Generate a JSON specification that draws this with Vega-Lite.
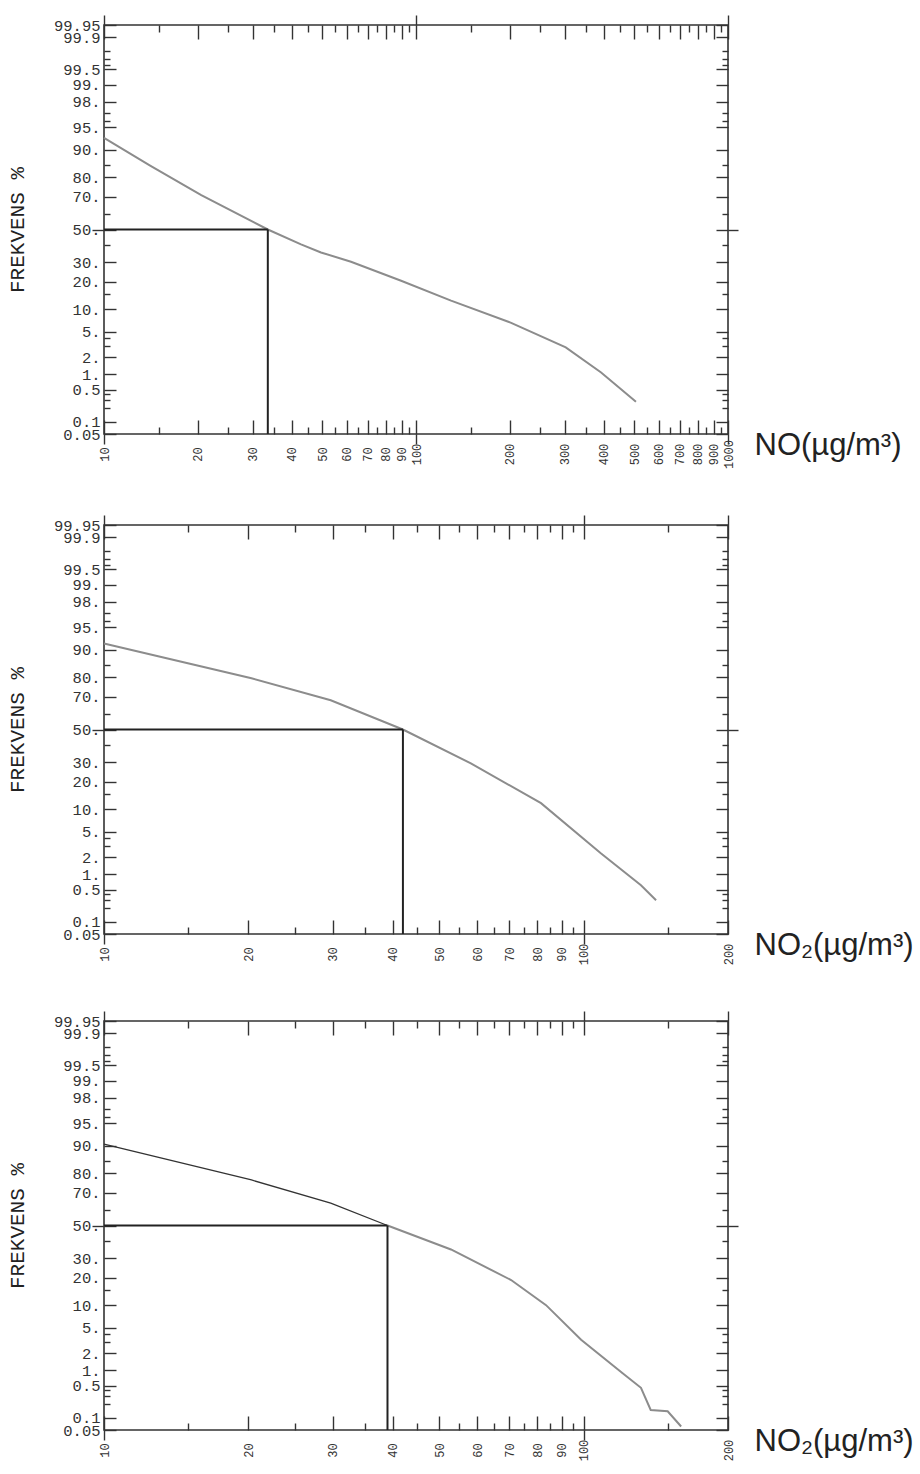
{
  "$schema": "https://vega.github.io/schema/vega-lite/v6.json",
  "background": "white",
  "padding": {"left": 5, "top": 13, "right": 5, "bottom": 5},
  "spacing": 43,
  "config": {
    "view": {"stroke": "#333", "strokeWidth": 1.6},
    "axis": {"domain": false, "grid": false, "tickColor": "#333", "tickWidth": 1.4, "labelColor": "#333", "titleColor": "#222", "labelOverlap": false, "labelFlush": false, "labelBound": false}
  },
  "datasets": {
    "curves": [
      {"panel": "NO", "part": "upper", "c": 10, "p": 93.0},
      {"panel": "NO", "part": "upper", "c": 14.1, "p": 84.7},
      {"panel": "NO", "part": "upper", "c": 20.5, "p": 71.0},
      {"panel": "NO", "part": "upper", "c": 33.5, "p": 50},
      {"panel": "NO", "part": "lower", "c": 33.5, "p": 50},
      {"panel": "NO", "part": "lower", "c": 42.8, "p": 40.5},
      {"panel": "NO", "part": "lower", "c": 49.6, "p": 35.6},
      {"panel": "NO", "part": "lower", "c": 61.9, "p": 30.2},
      {"panel": "NO", "part": "lower", "c": 89.6, "p": 20.5},
      {"panel": "NO", "part": "lower", "c": 129.5, "p": 12.6},
      {"panel": "NO", "part": "lower", "c": 201, "p": 6.7},
      {"panel": "NO", "part": "lower", "c": 302, "p": 2.9},
      {"panel": "NO", "part": "lower", "c": 392, "p": 1.07},
      {"panel": "NO", "part": "lower", "c": 507, "p": 0.28},
      {"panel": "NO2a", "part": "upper", "c": 10, "p": 91.7},
      {"panel": "NO2a", "part": "upper", "c": 20.3, "p": 79.5},
      {"panel": "NO2a", "part": "upper", "c": 29.7, "p": 68.1},
      {"panel": "NO2a", "part": "upper", "c": 42, "p": 50},
      {"panel": "NO2a", "part": "lower", "c": 42, "p": 50},
      {"panel": "NO2a", "part": "lower", "c": 58.2, "p": 29.3},
      {"panel": "NO2a", "part": "lower", "c": 81.5, "p": 11.8},
      {"panel": "NO2a", "part": "lower", "c": 108.6, "p": 2.33},
      {"panel": "NO2a", "part": "lower", "c": 131.7, "p": 0.61},
      {"panel": "NO2a", "part": "lower", "c": 141.6, "p": 0.30},
      {"panel": "NO2b", "part": "upper", "c": 10, "p": 90.5},
      {"panel": "NO2b", "part": "upper", "c": 20.3, "p": 76.8},
      {"panel": "NO2b", "part": "upper", "c": 29.7, "p": 64.1},
      {"panel": "NO2b", "part": "upper", "c": 39, "p": 50},
      {"panel": "NO2b", "part": "lower", "c": 39, "p": 50},
      {"panel": "NO2b", "part": "lower", "c": 52.9, "p": 35},
      {"panel": "NO2b", "part": "lower", "c": 70.6, "p": 19},
      {"panel": "NO2b", "part": "lower", "c": 83.5, "p": 10},
      {"panel": "NO2b", "part": "lower", "c": 98.8, "p": 3.3},
      {"panel": "NO2b", "part": "lower", "c": 120.6, "p": 0.875},
      {"panel": "NO2b", "part": "lower", "c": 131.7, "p": 0.45},
      {"panel": "NO2b", "part": "lower", "c": 138, "p": 0.15},
      {"panel": "NO2b", "part": "lower", "c": 149.7, "p": 0.14},
      {"panel": "NO2b", "part": "lower", "c": 159.7, "p": 0.061}
    ],
    "medians": [
      {"panel": "NO", "m": 33.5, "p": 50, "lo": 10, "pl": 0.05},
      {"panel": "NO2a", "m": 42, "p": 50, "lo": 10, "pl": 0.05},
      {"panel": "NO2b", "m": 39, "p": 50, "lo": 10, "pl": 0.05}
    ]
  },
  "vconcat": [
    {
      "width": 624, "height": 409,
      "resolve": {"axis": {"x": "independent", "y": "independent"}},
      "layer": [
        {
          "data": {"name": "curves"},
          "transform": [{"filter": "datum.panel == 'NO' && datum.part == 'upper'"}, {"calculate": "quantileNormal(datum.p / 100)", "as": "z"}],
          "mark": {"type": "line", "color": "#8c8c8c", "strokeWidth": 2},
          "encoding": {
            "x": {"field": "c", "type": "quantitative", "scale": {"type": "log", "domain": [10, 1000], "nice": false},
              "axis": {"orient": "bottom", "values": [10,15,20,25,30,35,40,45,50,55,60,65,70,75,80,85,90,95,100,150,200,250,300,350,400,450,500,550,600,650,700,750,800,850,900,950,1000],
                "format": "d", "labelAngle": 270, "labelAlign": "center", "labelBaseline": "middle", "labelFont": "Liberation Mono", "labelFontSize": 12, "labelPadding": 34,
                "labelExpr": "indexof([15,25,35,45,55,65,75,85,95,150,250,350,450,550,650,750,850,950], datum.value) >= 0 ? '' : datum.label",
                "tickSize": {"condition": {"test": "indexof([15,25,35,45,55,65,75,85,95,150,250,350,450,550,650,750,850,950], datum.value) >= 0", "value": -7}, "value": -14},
                "title": "NO(µg/m³)", "titleFont": "Liberation Sans", "titleFontSize": 31, "titleFontWeight": "normal", "titleX": 650, "titleY": 20, "titleAlign": "left", "titleBaseline": "alphabetic", "titleAngle": 0}},
            "y": {"field": "z", "type": "quantitative", "scale": {"domain": [-3.290527, 3.290527], "nice": false, "zero": false},
              "axis": {"orient": "left", "values": [-3.290527,-3.090232,-2.878162,-2.747781,-2.65207,-2.575829,-2.326348,-2.053749,-1.880794,-1.750686,-1.644854,-1.281552,-1.036433,-0.841621,-0.524401,-0.253347,0,0.253347,0.524401,0.841621,1.036433,1.281552,1.644854,1.750686,1.880794,2.053749,2.326348,2.575829,2.65207,2.747781,2.878162,3.090232,3.290527],
                "labelFont": "Liberation Mono", "labelFontSize": 15.5, "labelPadding": 16,
                "labelExpr": "indexof([-2.878162,-2.747781,-2.65207,-1.880794,-1.750686,-1.036433,-0.253347,0.253347,1.036433,1.750686,1.880794,2.65207,2.747781,2.878162], datum.value) >= 0 ? '' : (indexof(format(cumulativeNormal(datum.value) * 100, '.2~f'), '.') >= 0 ? format(cumulativeNormal(datum.value) * 100, '.2~f') : format(cumulativeNormal(datum.value) * 100, '.2~f') + '.\u00a0')",
                "tickSize": {"condition": {"test": "indexof([-2.878162,-2.747781,-2.65207,-1.880794,-1.750686,-1.036433,-0.253347,0.253347,1.036433,1.750686,1.880794,2.65207,2.747781,2.878162], datum.value) >= 0", "value": -6}, "value": -12},
                "title": "FREKVENS %", "titleFont": "Liberation Mono", "titleFontSize": 21, "titleFontWeight": "normal", "titlePadding": 26}}
          }
        },
        {
          "data": {"name": "curves"},
          "transform": [{"filter": "datum.panel == 'NO' && datum.part == 'lower'"}, {"calculate": "quantileNormal(datum.p / 100)", "as": "z"}],
          "mark": {"type": "line", "color": "#8c8c8c", "strokeWidth": 2},
          "encoding": {
            "x": {"field": "c", "type": "quantitative", "scale": {"type": "log", "domain": [10, 1000], "nice": false},
              "axis": {"orient": "top", "values": [10,15,20,25,30,35,40,45,50,55,60,65,70,75,80,85,90,95,100,150,200,250,300,350,400,450,500,550,600,650,700,750,800,850,900,950,1000],
                "labels": false, "title": null,
                "tickSize": {"condition": {"test": "indexof([15,25,35,45,55,65,75,85,95,150,250,350,450,550,650,750,850,950], datum.value) >= 0", "value": -7}, "value": -14}}},
            "y": {"field": "z", "type": "quantitative", "scale": {"domain": [-3.290527, 3.290527], "nice": false, "zero": false},
              "axis": {"orient": "right", "values": [-3.290527,-3.090232,-2.878162,-2.747781,-2.65207,-2.575829,-2.326348,-2.053749,-1.880794,-1.750686,-1.644854,-1.281552,-1.036433,-0.841621,-0.524401,-0.253347,0,0.253347,0.524401,0.841621,1.036433,1.281552,1.644854,1.750686,1.880794,2.053749,2.326348,2.575829,2.65207,2.747781,2.878162,3.090232,3.290527],
                "labels": false, "title": null,
                "tickSize": {"condition": {"test": "indexof([-2.878162,-2.747781,-2.65207,-1.880794,-1.750686,-1.036433,-0.253347,0.253347,1.036433,1.750686,1.880794,2.65207,2.747781,2.878162], datum.value) >= 0", "value": -6}, "value": -12}}}
          }
        },
        {
          "data": {"name": "medians"},
          "transform": [{"filter": "datum.panel == 'NO'"}, {"calculate": "quantileNormal(datum.p / 100)", "as": "z"}],
          "mark": {"type": "rule", "color": "#222", "strokeWidth": 2},
          "encoding": {
            "x": {"field": "lo", "type": "quantitative", "scale": {"type": "log", "domain": [10, 1000], "nice": false},
              "axis": {"orient": "bottom", "values": [10, 100, 1000], "labels": false, "title": null, "tickSize": 10}},
            "x2": {"field": "m"},
            "y": {"field": "z", "type": "quantitative", "scale": {"domain": [-3.290527, 3.290527], "nice": false, "zero": false},
              "axis": {"orient": "left", "values": [0], "labels": false, "title": null, "tickSize": 12}}
          }
        },
        {
          "data": {"name": "medians"},
          "transform": [{"filter": "datum.panel == 'NO'"}, {"calculate": "quantileNormal(datum.p / 100)", "as": "z"}, {"calculate": "quantileNormal(datum.pl / 100)", "as": "zl"}],
          "mark": {"type": "rule", "color": "#222", "strokeWidth": 2},
          "encoding": {
            "x": {"field": "m", "type": "quantitative", "scale": {"type": "log", "domain": [10, 1000], "nice": false},
              "axis": {"orient": "top", "values": [10, 100, 1000], "labels": false, "title": null, "tickSize": 10}},
            "y": {"field": "z", "type": "quantitative", "scale": {"domain": [-3.290527, 3.290527], "nice": false, "zero": false},
              "axis": {"orient": "right", "values": [0], "labels": false, "title": null, "tickSize": 10}},
            "y2": {"field": "zl"}
          }
        }
      ]
    },
    {
      "width": 624, "height": 409,
      "resolve": {"axis": {"x": "independent", "y": "independent"}},
      "layer": [
        {
          "data": {"name": "curves"},
          "transform": [{"filter": "datum.panel == 'NO2a' && datum.part == 'upper'"}, {"calculate": "quantileNormal(datum.p / 100)", "as": "z"}],
          "mark": {"type": "line", "color": "#8c8c8c", "strokeWidth": 2},
          "encoding": {
            "x": {"field": "c", "type": "quantitative", "scale": {"type": "log", "domain": [10, 200], "nice": false},
              "axis": {"orient": "bottom", "values": [10,15,20,25,30,35,40,45,50,55,60,65,70,75,80,85,90,95,100,150,200],
                "format": "d", "labelAngle": 270, "labelAlign": "center", "labelBaseline": "middle", "labelFont": "Liberation Mono", "labelFontSize": 12, "labelPadding": 34,
                "labelExpr": "indexof([15,25,35,45,55,65,75,85,95,150], datum.value) >= 0 ? '' : datum.label",
                "tickSize": {"condition": {"test": "indexof([15,25,35,45,55,65,75,85,95,150], datum.value) >= 0", "value": -7}, "value": -14},
                "title": "NO₂(µg/m³)", "titleFont": "Liberation Sans", "titleFontSize": 31, "titleFontWeight": "normal", "titleX": 650, "titleY": 20, "titleAlign": "left", "titleBaseline": "alphabetic", "titleAngle": 0}},
            "y": {"field": "z", "type": "quantitative", "scale": {"domain": [-3.290527, 3.290527], "nice": false, "zero": false},
              "axis": {"orient": "left", "values": [-3.290527,-3.090232,-2.878162,-2.747781,-2.65207,-2.575829,-2.326348,-2.053749,-1.880794,-1.750686,-1.644854,-1.281552,-1.036433,-0.841621,-0.524401,-0.253347,0,0.253347,0.524401,0.841621,1.036433,1.281552,1.644854,1.750686,1.880794,2.053749,2.326348,2.575829,2.65207,2.747781,2.878162,3.090232,3.290527],
                "labelFont": "Liberation Mono", "labelFontSize": 15.5, "labelPadding": 16,
                "labelExpr": "indexof([-2.878162,-2.747781,-2.65207,-1.880794,-1.750686,-1.036433,-0.253347,0.253347,1.036433,1.750686,1.880794,2.65207,2.747781,2.878162], datum.value) >= 0 ? '' : (indexof(format(cumulativeNormal(datum.value) * 100, '.2~f'), '.') >= 0 ? format(cumulativeNormal(datum.value) * 100, '.2~f') : format(cumulativeNormal(datum.value) * 100, '.2~f') + '.\u00a0')",
                "tickSize": {"condition": {"test": "indexof([-2.878162,-2.747781,-2.65207,-1.880794,-1.750686,-1.036433,-0.253347,0.253347,1.036433,1.750686,1.880794,2.65207,2.747781,2.878162], datum.value) >= 0", "value": -6}, "value": -12},
                "title": "FREKVENS %", "titleFont": "Liberation Mono", "titleFontSize": 21, "titleFontWeight": "normal", "titlePadding": 26}}
          }
        },
        {
          "data": {"name": "curves"},
          "transform": [{"filter": "datum.panel == 'NO2a' && datum.part == 'lower'"}, {"calculate": "quantileNormal(datum.p / 100)", "as": "z"}],
          "mark": {"type": "line", "color": "#8c8c8c", "strokeWidth": 2},
          "encoding": {
            "x": {"field": "c", "type": "quantitative", "scale": {"type": "log", "domain": [10, 200], "nice": false},
              "axis": {"orient": "top", "values": [10,15,20,25,30,35,40,45,50,55,60,65,70,75,80,85,90,95,100,150,200],
                "labels": false, "title": null,
                "tickSize": {"condition": {"test": "indexof([15,25,35,45,55,65,75,85,95,150], datum.value) >= 0", "value": -7}, "value": -14}}},
            "y": {"field": "z", "type": "quantitative", "scale": {"domain": [-3.290527, 3.290527], "nice": false, "zero": false},
              "axis": {"orient": "right", "values": [-3.290527,-3.090232,-2.878162,-2.747781,-2.65207,-2.575829,-2.326348,-2.053749,-1.880794,-1.750686,-1.644854,-1.281552,-1.036433,-0.841621,-0.524401,-0.253347,0,0.253347,0.524401,0.841621,1.036433,1.281552,1.644854,1.750686,1.880794,2.053749,2.326348,2.575829,2.65207,2.747781,2.878162,3.090232,3.290527],
                "labels": false, "title": null,
                "tickSize": {"condition": {"test": "indexof([-2.878162,-2.747781,-2.65207,-1.880794,-1.750686,-1.036433,-0.253347,0.253347,1.036433,1.750686,1.880794,2.65207,2.747781,2.878162], datum.value) >= 0", "value": -6}, "value": -12}}}
          }
        },
        {
          "data": {"name": "medians"},
          "transform": [{"filter": "datum.panel == 'NO2a'"}, {"calculate": "quantileNormal(datum.p / 100)", "as": "z"}],
          "mark": {"type": "rule", "color": "#222", "strokeWidth": 2},
          "encoding": {
            "x": {"field": "lo", "type": "quantitative", "scale": {"type": "log", "domain": [10, 200], "nice": false},
              "axis": {"orient": "bottom", "values": [10, 100], "labels": false, "title": null, "tickSize": 10}},
            "x2": {"field": "m"},
            "y": {"field": "z", "type": "quantitative", "scale": {"domain": [-3.290527, 3.290527], "nice": false, "zero": false},
              "axis": {"orient": "left", "values": [0], "labels": false, "title": null, "tickSize": 12}}
          }
        },
        {
          "data": {"name": "medians"},
          "transform": [{"filter": "datum.panel == 'NO2a'"}, {"calculate": "quantileNormal(datum.p / 100)", "as": "z"}, {"calculate": "quantileNormal(datum.pl / 100)", "as": "zl"}],
          "mark": {"type": "rule", "color": "#222", "strokeWidth": 2},
          "encoding": {
            "x": {"field": "m", "type": "quantitative", "scale": {"type": "log", "domain": [10, 200], "nice": false},
              "axis": {"orient": "top", "values": [10, 100, 200], "labels": false, "title": null, "tickSize": 10}},
            "y": {"field": "z", "type": "quantitative", "scale": {"domain": [-3.290527, 3.290527], "nice": false, "zero": false},
              "axis": {"orient": "right", "values": [0], "labels": false, "title": null, "tickSize": 10}},
            "y2": {"field": "zl"}
          }
        }
      ]
    },
    {
      "width": 624, "height": 409,
      "resolve": {"axis": {"x": "independent", "y": "independent"}},
      "layer": [
        {
          "data": {"name": "curves"},
          "transform": [{"filter": "datum.panel == 'NO2b' && datum.part == 'upper'"}, {"calculate": "quantileNormal(datum.p / 100)", "as": "z"}],
          "mark": {"type": "line", "color": "#333", "strokeWidth": 1.3},
          "encoding": {
            "x": {"field": "c", "type": "quantitative", "scale": {"type": "log", "domain": [10, 200], "nice": false},
              "axis": {"orient": "bottom", "values": [10,15,20,25,30,35,40,45,50,55,60,65,70,75,80,85,90,95,100,150,200],
                "format": "d", "labelAngle": 270, "labelAlign": "center", "labelBaseline": "middle", "labelFont": "Liberation Mono", "labelFontSize": 12, "labelPadding": 34,
                "labelExpr": "indexof([15,25,35,45,55,65,75,85,95,150], datum.value) >= 0 ? '' : datum.label",
                "tickSize": {"condition": {"test": "indexof([15,25,35,45,55,65,75,85,95,150], datum.value) >= 0", "value": -7}, "value": -14},
                "title": "NO₂(µg/m³)", "titleFont": "Liberation Sans", "titleFontSize": 31, "titleFontWeight": "normal", "titleX": 650, "titleY": 20, "titleAlign": "left", "titleBaseline": "alphabetic", "titleAngle": 0}},
            "y": {"field": "z", "type": "quantitative", "scale": {"domain": [-3.290527, 3.290527], "nice": false, "zero": false},
              "axis": {"orient": "left", "values": [-3.290527,-3.090232,-2.878162,-2.747781,-2.65207,-2.575829,-2.326348,-2.053749,-1.880794,-1.750686,-1.644854,-1.281552,-1.036433,-0.841621,-0.524401,-0.253347,0,0.253347,0.524401,0.841621,1.036433,1.281552,1.644854,1.750686,1.880794,2.053749,2.326348,2.575829,2.65207,2.747781,2.878162,3.090232,3.290527],
                "labelFont": "Liberation Mono", "labelFontSize": 15.5, "labelPadding": 16,
                "labelExpr": "indexof([-2.878162,-2.747781,-2.65207,-1.880794,-1.750686,-1.036433,-0.253347,0.253347,1.036433,1.750686,1.880794,2.65207,2.747781,2.878162], datum.value) >= 0 ? '' : (indexof(format(cumulativeNormal(datum.value) * 100, '.2~f'), '.') >= 0 ? format(cumulativeNormal(datum.value) * 100, '.2~f') : format(cumulativeNormal(datum.value) * 100, '.2~f') + '.\u00a0')",
                "tickSize": {"condition": {"test": "indexof([-2.878162,-2.747781,-2.65207,-1.880794,-1.750686,-1.036433,-0.253347,0.253347,1.036433,1.750686,1.880794,2.65207,2.747781,2.878162], datum.value) >= 0", "value": -6}, "value": -12},
                "title": "FREKVENS %", "titleFont": "Liberation Mono", "titleFontSize": 21, "titleFontWeight": "normal", "titlePadding": 26}}
          }
        },
        {
          "data": {"name": "curves"},
          "transform": [{"filter": "datum.panel == 'NO2b' && datum.part == 'lower'"}, {"calculate": "quantileNormal(datum.p / 100)", "as": "z"}],
          "mark": {"type": "line", "color": "#8c8c8c", "strokeWidth": 2},
          "encoding": {
            "x": {"field": "c", "type": "quantitative", "scale": {"type": "log", "domain": [10, 200], "nice": false},
              "axis": {"orient": "top", "values": [10,15,20,25,30,35,40,45,50,55,60,65,70,75,80,85,90,95,100,150,200],
                "labels": false, "title": null,
                "tickSize": {"condition": {"test": "indexof([15,25,35,45,55,65,75,85,95,150], datum.value) >= 0", "value": -7}, "value": -14}}},
            "y": {"field": "z", "type": "quantitative", "scale": {"domain": [-3.290527, 3.290527], "nice": false, "zero": false},
              "axis": {"orient": "right", "values": [-3.290527,-3.090232,-2.878162,-2.747781,-2.65207,-2.575829,-2.326348,-2.053749,-1.880794,-1.750686,-1.644854,-1.281552,-1.036433,-0.841621,-0.524401,-0.253347,0,0.253347,0.524401,0.841621,1.036433,1.281552,1.644854,1.750686,1.880794,2.053749,2.326348,2.575829,2.65207,2.747781,2.878162,3.090232,3.290527],
                "labels": false, "title": null,
                "tickSize": {"condition": {"test": "indexof([-2.878162,-2.747781,-2.65207,-1.880794,-1.750686,-1.036433,-0.253347,0.253347,1.036433,1.750686,1.880794,2.65207,2.747781,2.878162], datum.value) >= 0", "value": -6}, "value": -12}}}
          }
        },
        {
          "data": {"name": "medians"},
          "transform": [{"filter": "datum.panel == 'NO2b'"}, {"calculate": "quantileNormal(datum.p / 100)", "as": "z"}],
          "mark": {"type": "rule", "color": "#222", "strokeWidth": 2},
          "encoding": {
            "x": {"field": "lo", "type": "quantitative", "scale": {"type": "log", "domain": [10, 200], "nice": false},
              "axis": {"orient": "bottom", "values": [10, 100], "labels": false, "title": null, "tickSize": 10}},
            "x2": {"field": "m"},
            "y": {"field": "z", "type": "quantitative", "scale": {"domain": [-3.290527, 3.290527], "nice": false, "zero": false},
              "axis": {"orient": "left", "values": [0], "labels": false, "title": null, "tickSize": 12}}
          }
        },
        {
          "data": {"name": "medians"},
          "transform": [{"filter": "datum.panel == 'NO2b'"}, {"calculate": "quantileNormal(datum.p / 100)", "as": "z"}, {"calculate": "quantileNormal(datum.pl / 100)", "as": "zl"}],
          "mark": {"type": "rule", "color": "#222", "strokeWidth": 2},
          "encoding": {
            "x": {"field": "m", "type": "quantitative", "scale": {"type": "log", "domain": [10, 200], "nice": false},
              "axis": {"orient": "top", "values": [10, 100, 200], "labels": false, "title": null, "tickSize": 10}},
            "y": {"field": "z", "type": "quantitative", "scale": {"domain": [-3.290527, 3.290527], "nice": false, "zero": false},
              "axis": {"orient": "right", "values": [0], "labels": false, "title": null, "tickSize": 10}},
            "y2": {"field": "zl"}
          }
        }
      ]
    }
  ]
}
